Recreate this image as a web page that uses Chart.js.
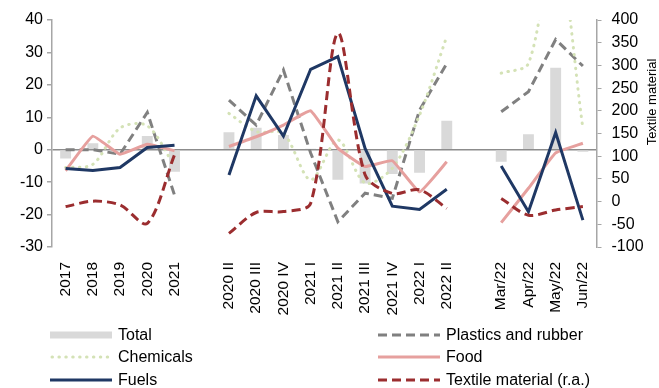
<!DOCTYPE html>
<html>
<head>
<meta charset="utf-8">
<script src="https://cdn.jsdelivr.net/npm/chart.js@4.4.0/dist/chart.umd.min.js"></script>
<style>
  body { margin: 0; background: #fff; font-family: "Liberation Sans", Arial, sans-serif; color: #000; }
  #wrap { position: relative; width: 659px; height: 388px; overflow: hidden; }
  #wrap canvas { position: absolute; left: 0; top: 0; }
  .axis-title { position: absolute; left: 582px; top: 92px; width: 140px; height: 20px; line-height: 20px;
    text-align: center; font-size: 13px; transform: rotate(-90deg); white-space: nowrap; }
  .leg { position: absolute; height: 20px; line-height: 20px; font-size: 16px; white-space: nowrap; }
  .leg svg { position: absolute; top: 5px; }
  .leg span { position: absolute; }
</style>
</head>
<body>
<div id="wrap">
  <canvas id="chart" width="659" height="388"></canvas>
  <div class="axis-title">Textile material</div>
  <div id="legend"></div>
</div>
<script>
const categories = ['2017', '2018', '2019', '2020', '2021', '',
    '2020 II', '2020 III', '2020 IV', '2021 I', '2021 II', '2021 III', '2021 IV', '2022 I', '2022 II', '',
    'Mar/22', 'Apr/22', 'May/22', 'Jun/22'];

const total     = [-2.7, 2, -0.5, 4.2, -6.8, null, 5.4, 6.8, 4.5, 0.3, -9.3, -10.4, -7.5, -7.1, 8.9, null, -3.7, 4.8, 25.3, -0.6];
const plastics  = [0, 0, -1.4, 11.5, -14, null, 15.3, 7.6, 24.6, -1, -22.2, -13.4, -15, 12.2, 26.6, null, 11.7, 17.9, 34, 25.8];
const chemicals = [-5.5, -4.5, 6.7, 7.4, -5, null, 11.2, 5.6, 5, -9.3, 3, -10.3, -5.7, 10.7, 34.9, null, 23.6, 26.6, 65, 6.6];
const food      = [-6.5, 4.2, -1.4, 1.7, -0.3, null, 1, 4, 7.6, 12, 0.5, -5.2, -3.4, -13, -3.7, null, -22.5, -11.9, -1, 2];
const fuels     = [-5.8, -6.4, -5.5, 0.7, 1.4, null, -7.8, 16.6, 4.2, 24.8, 28.7, 0.4, -17.4, -18.4, -12.2, null, -5, -19.1, 5.3, -21.7];
const textile   = [-11, 1, -7.5, -48, 103, null, -70, -24, -22, -4, 371, 59, 18, 26, -15, null, 7, -30, -18.5, -11];

const leftTicks  = [-30, -20, -10, 0, 10, 20, 30, 40];
const rightTicks = [-100, -50, 0, 50, 100, 150, 200, 250, 300, 350, 400];

const axisGray = '#a6a6a6';

function lineSet(label, data, color, dash, tension, order, axis) {
    return {
        type: 'line',
        label: label,
        data: data,
        borderColor: color,
        backgroundColor: color,
        borderWidth: 3,
        borderDash: dash,
        borderCapStyle: dash.length && dash[0] < 1 ? 'round' : 'butt',
        tension: tension,
        pointRadius: 0,
        fill: false,
        order: order,
        yAxisID: axis
    };
}

const datasets = [
    {
        type: 'bar',
        label: 'Total',
        data: total,
        backgroundColor: '#d9d9d9',
        barPercentage: 0.4,
        categoryPercentage: 1,
        order: 10,
        yAxisID: 'y'
    },
    lineSet('Plastics and rubber', plastics, '#808080', [9, 5], 0, 6, 'y'),
    lineSet('Chemicals', chemicals, '#d4e2b6', [0.5, 6.4], 0.3, 5, 'y'),
    lineSet('Food', food, '#e6a09e', [], 0.1, 4, 'y'),
    lineSet('Fuels', fuels, '#1f3864', [], 0, 3, 'y'),
    lineSet('Textile material (r.a.)', textile, '#9b2d2f', [9, 5], 0.3, 2, 'y1')
];

const tickFont = { family: '"Liberation Sans", Arial, sans-serif', size: 16 };
const catFont = { family: '"Liberation Sans", Arial, sans-serif', size: 15.5 };

new Chart(document.getElementById('chart').getContext('2d'), {
    data: { labels: categories, datasets: datasets },
    options: {
        responsive: false,
        animation: false,
        layout: { padding: { top: 20, bottom: 71, left: 0, right: 0 } },
        plugins: { legend: { display: false }, tooltip: { enabled: false } },
        scales: {
            x: {
                offset: true,
                grid: { display: false },
                border: { display: false },
                ticks: { autoSkip: false, maxRotation: 90, minRotation: 90, padding: 7, color: '#000', font: catFont },
                afterFit: s => { s.height = 70; }
            },
            y: {
                position: 'left',
                min: leftTicks[0],
                max: leftTicks[leftTicks.length - 1],
                afterBuildTicks: s => { s.ticks = leftTicks.map(v => ({ value: v })); },
                ticks: { color: '#000', font: tickFont, padding: 4 },
                grid: {
                    color: c => (c.tick && c.tick.value === 0) ? '#8c8c8c' : 'rgba(0,0,0,0)',
                    lineWidth: 1.5,
                    tickColor: axisGray,
                    tickLength: 5
                },
                border: { color: axisGray, width: 1.5 },
                afterFit: s => { s.width = 52; }
            },
            y1: {
                position: 'right',
                min: rightTicks[0],
                max: rightTicks[rightTicks.length - 1],
                afterBuildTicks: s => { s.ticks = rightTicks.map(v => ({ value: v })); },
                ticks: { color: '#000', font: tickFont, padding: 10 },
                grid: { drawOnChartArea: false, tickColor: axisGray, tickLength: 5 },
                border: { color: axisGray, width: 1.5 },
                afterFit: s => { s.width = 62.5; }
            }
        }
    }
});

// legend, two columns like the original
const legendItems = [
    { text: 'Total', kind: 'box', color: '#d9d9d9', x: 50, y: 335 },
    { text: 'Plastics and rubber', kind: 'line', color: '#808080', dash: '9 5', x: 378, y: 335 },
    { text: 'Chemicals', kind: 'dot', color: '#d4e2b6', x: 50, y: 357 },
    { text: 'Food', kind: 'line', color: '#e6a09e', dash: '', x: 378, y: 357 },
    { text: 'Fuels', kind: 'line', color: '#1f3864', dash: '', x: 50, y: 380 },
    { text: 'Textile material (r.a.)', kind: 'line', color: '#9b2d2f', dash: '9 5', x: 378, y: 380 }
];

const legend = document.getElementById('legend');
legendItems.forEach(item => {
    const el = document.createElement('div');
    el.className = 'leg';
    el.style.left = item.x + 'px';
    el.style.top = (item.y - 10) + 'px';
    let mark;
    if (item.kind === 'box') {
        mark = '<rect x="0" y="1.5" width="62" height="7" fill="' + item.color + '"/>';
    } else if (item.kind === 'dot') {
        mark = '<line x1="2" y1="5" x2="62" y2="5" stroke="' + item.color + '" stroke-width="3" stroke-linecap="round" stroke-dasharray="0.5 6.4"/>';
    } else {
        mark = '<line x1="0" y1="5" x2="62" y2="5" stroke="' + item.color + '" stroke-width="3"' +
            (item.dash ? ' stroke-dasharray="' + item.dash + '"' : '') + '/>';
    }
    el.innerHTML = '<svg width="62" height="10">' + mark + '</svg><span style="left:68px">' + item.text + '</span>';
    legend.appendChild(el);
});
</script>
</body>
</html>
